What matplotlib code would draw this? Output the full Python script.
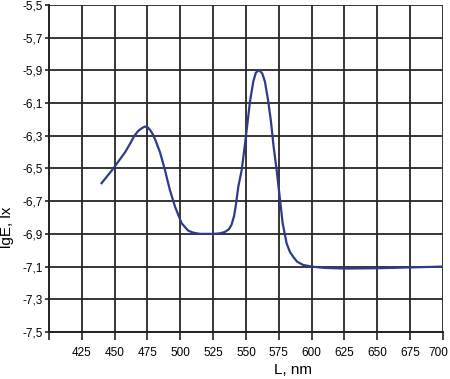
import matplotlib.pyplot as plt
import matplotlib.transforms as mtransforms
from matplotlib.ticker import FuncFormatter

# wavelength, nm
wavelength = [440, 445, 449, 453, 458, 462, 465, 468, 471, 473, 475, 477,
              479, 481, 484.5, 488, 492, 496, 501, 506, 510, 515, 520, 525,
              530, 534, 537, 539, 541, 542.4, 544.2, 546.8, 549.2, 551.3, 553.1,
              555.6, 557.5, 560, 562.5, 564.5, 567, 569.1, 571, 573.4, 576,
              578, 581, 583.5, 586, 589, 593.6, 600, 610, 625, 650, 675, 700]
# lgE, lx
lg_e = [-6.59, -6.54, -6.50, -6.455, -6.40, -6.345, -6.30, -6.27, -6.252,
        -6.244, -6.247, -6.265, -6.29, -6.326, -6.40, -6.50, -6.63, -6.734,
        -6.835, -6.88, -6.893, -6.90, -6.90, -6.90, -6.897, -6.888, -6.872,
        -6.845, -6.79, -6.72, -6.611, -6.509, -6.356, -6.214, -6.09, -5.97,
        -5.915, -5.898, -5.92, -5.97, -6.09, -6.214, -6.36, -6.509, -6.693,
        -6.835, -6.958, -7.01, -7.04, -7.07, -7.09, -7.10, -7.108, -7.112,
        -7.11, -7.105, -7.10]

x_ticks = [400, 425, 450, 475, 500, 525, 550, 575, 600, 625, 650, 675, 700]
y_ticks = [-7.5, -7.3, -7.1, -6.9, -6.7, -6.5, -6.3, -6.1, -5.9, -5.7, -5.5]

plt.rcParams["font.family"] = ["Liberation Sans", "DejaVu Sans"]

fig = plt.figure(figsize=(4.5, 3.79), dpi=100)
ax = fig.add_axes([0.109, 0.124, 0.875, 0.863])

ax.plot(wavelength, lg_e, color="#2e3a8c", lw=1.6, zorder=3)

ax.set_xlim(400, 700)
ax.set_ylim(-7.5, -5.5)
ax.set_xticks(x_ticks)
ax.set_yticks(y_ticks)
ax.xaxis.set_major_formatter(FuncFormatter(lambda v, p: "" if v == 400 else f"{v:.0f}"))
ax.yaxis.set_major_formatter(FuncFormatter(lambda v, p: f"{v:.1f}".replace(".", ",")))
ax.tick_params(axis="x", length=6, width=1.2, pad=5, labelsize=8.5, color="#222222")
ax.tick_params(axis="y", length=3, width=1.2, pad=1.5, labelsize=8.5, color="#222222")

# last x label sits a bit to the left so it stays inside the picture
last = ax.get_xticklabels()[-1]
last.set_transform(last.get_transform() + mtransforms.ScaledTranslation(-3 / 72, 0, fig.dpi_scale_trans))

ax.grid(True, color="#262626", lw=1.3, zorder=1)
for side in ["top", "right"]:
    ax.spines[side].set_visible(False)
for side in ["left", "bottom"]:
    ax.spines[side].set_color("#222222")
    ax.spines[side].set_linewidth(1.4)

ax.set_xlabel("L, nm", fontsize=11)
ax.xaxis.set_label_coords(0.62, -0.095)
ax.set_ylabel("lgE, lx", fontsize=11)
ax.yaxis.set_label_coords(-0.09, 0.32)

fig.savefig("out.png", dpi=100)
